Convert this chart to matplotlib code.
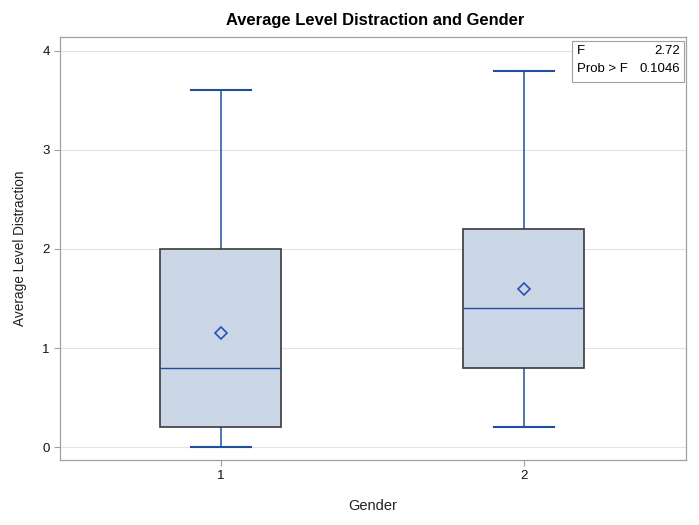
import matplotlib
matplotlib.use("Agg")
import matplotlib.pyplot as plt
from matplotlib.patches import Rectangle

plt.rcParams['font.family'] = ['Liberation Sans', 'DejaVu Sans']

categories = ["1", "2"]
mins = [0.0, 0.2]
q1s = [0.2, 0.8]
medians = [0.8, 1.4]
means = [1.15, 1.6]
q3s = [2.0, 2.2]
maxs = [3.6, 3.8]
yticks = [0, 1, 2, 3, 4]
stat_labels = ["F", "Prob > F"]
stat_values = ["2.72", "0.1046"]

W, H = 699, 525
fig = plt.figure(figsize=(W/100, H/100), dpi=100)
ax = fig.add_axes([60/W, 1-460/H, (686-60)/W, (460-37)/H])

stats = []
for i, c in enumerate(categories):
    stats.append(dict(label=c, whislo=mins[i], q1=q1s[i], med=medians[i],
                      q3=q3s[i], whishi=maxs[i], mean=means[i]))

positions = list(range(1, len(categories) + 1))
wcol = "#1f4f9c"
bp = ax.bxp(stats, positions=positions, widths=0.40, patch_artist=True,
            showmeans=True, showfliers=False,
            boxprops=dict(facecolor="#cbd6e6", edgecolor="#3a3a3a", linewidth=1.2),
            whiskerprops=dict(color=wcol, linewidth=1.1),
            capprops=dict(color=wcol, linewidth=1.5),
            medianprops=dict(color=wcol, linewidth=1.0),
            meanprops=dict(marker="D", markerfacecolor="none", markeredgecolor="#2a52b8",
                           markersize=6, markeredgewidth=1.2),
            capwidths=0.20)
for b in bp['boxes']:
    b.set_zorder(3)
for m in bp['medians']:
    m.set_zorder(4)
for m in bp['means']:
    m.set_zorder(5)

ax.set_xlim(0.469, 2.535)
ax.set_ylim(-0.13, 4.14)
ax.set_yticks(yticks)
ax.set_xticks(positions)
ax.set_xticklabels(categories)
ax.yaxis.grid(True, color="#e3e3e3", linewidth=0.8)
ax.set_axisbelow(True)
for s in ax.spines.values():
    s.set_color("#a0a0a0")
    s.set_linewidth(0.9)
ax.tick_params(colors="#111111", labelsize=9.5, length=4)
ax.tick_params(axis='both', color="#a0a0a0")

ax.set_xlabel("Gender", fontsize=10.5, labelpad=12, color="#222222")
ax.set_ylabel("Average Level Distraction", fontsize=9.8, labelpad=11, color="#222222")
fig.suptitle("Average Level Distraction and Gender", fontsize=11.9, fontweight="bold",
             x=(60+686)/2/W + 2/W, y=1-20/H, va="center")

# inset statistics table (figure pixel coords -> fraction)
x0, x1, y0, y1 = 572, 684, 41, 82
fig.patches.append(Rectangle((x0/W, 1-y1/H), (x1-x0)/W, (y1-y0)/H, transform=fig.transFigure,
                             facecolor="white", edgecolor="#a0a0a0", linewidth=0.8, zorder=10))
rows_y = [51, 69]
for lab, val, yy in zip(stat_labels, stat_values, rows_y):
    fig.text((x0+5)/W, 1-yy/H, lab, ha="left", va="center", fontsize=9.5, zorder=11)
    fig.text((x1-4)/W, 1-yy/H, val, ha="right", va="center", fontsize=9.5, zorder=11)

fig.savefig("out.png", dpi=100)
